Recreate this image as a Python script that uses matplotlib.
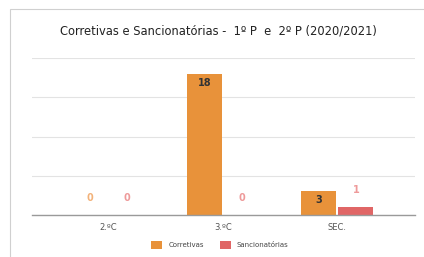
import matplotlib.pyplot as plt
import numpy as np
from matplotlib.patches import Rectangle

categorias = ["2.ºC", "3.ºC", "SEC."]
corretivas = [0, 18, 3]
sancionatorias = [0, 0, 1]

cor_corr = "#E8923A"
cor_sanc = "#E06666"

fig = plt.figure(figsize=(4.24, 2.57), dpi=100)
fig.patch.set_facecolor("white")

# moldura cinzenta (canto superior esquerdo)
fig.add_artist(Rectangle((10/424, -0.1), 1.0, 1 - 9/257 + 0.1, transform=fig.transFigure,
                         fill=False, edgecolor="#d0d0d0", linewidth=0.8))

ax = fig.add_axes([32/424, 1 - 215/257, 383/424, 157/257])

x = np.arange(len(categorias))
w = 0.305
b1 = ax.bar(x - w/2 - 0.01, corretivas, w, color=cor_corr, label="Corretivas")
b2 = ax.bar(x + w/2 + 0.01, sancionatorias, w, color=cor_sanc, label="Sancionatórias")

ax.set_xlim(-0.67, 2.68)
ax.set_ylim(0, 20)
ax.set_yticks([0, 5, 10, 15, 20])
ax.yaxis.grid(True, color="#e3e3e3", linewidth=0.8)
ax.set_axisbelow(True)
ax.tick_params(axis="y", left=False, labelleft=False)
ax.tick_params(axis="x", length=0, labelsize=6, colors="#555555", pad=6)
ax.set_xticks(x)
ax.set_xticklabels(categorias)
for s in ["top", "right", "left"]:
    ax.spines[s].set_visible(False)
ax.spines["bottom"].set_color("#9a9a9a")
ax.spines["bottom"].set_linewidth(1.0)

# rótulos
for xi, v in zip(x - w/2 - 0.01, corretivas):
    if v >= 3:
        ax.text(xi, v - 0.5, str(v), ha="center", va="top", fontsize=7,
                fontweight="bold", color="#333333")
    else:
        ax.text(xi, v + 1.5, str(v), ha="center", va="bottom", fontsize=7,
                fontweight="bold", color="#F2B27A")
for xi, v in zip(x + w/2 + 0.01, sancionatorias):
    ax.text(xi, v + 1.5, str(v), ha="center", va="bottom", fontsize=7,
            fontweight="bold", color="#EE9A9A")

fig.text(218/424, 1 - 31/257, "Corretivas e Sancionatórias -  1º P  e  2º P (2020/2021)",
         ha="center", va="center", fontsize=8.3, color="#222222")

fig.legend(handles=[b1, b2], loc="center", bbox_to_anchor=(220/424, 1 - 245/257),
           ncol=2, frameon=False, fontsize=5, handlelength=1.6, handleheight=1.6,
           columnspacing=2.2, handletextpad=0.9, labelcolor="#444444")

fig.savefig("out.png", dpi=100)
